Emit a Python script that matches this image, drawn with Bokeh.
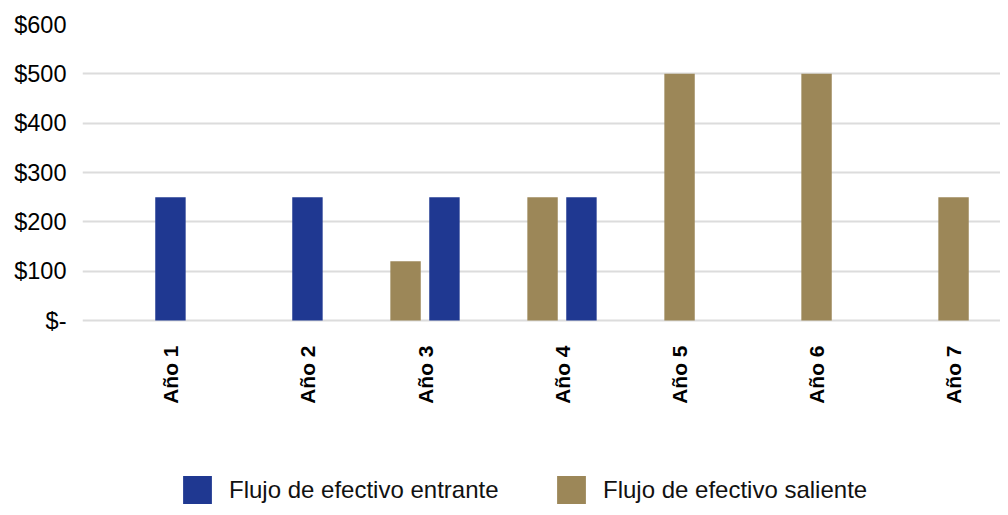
import math
from bokeh.plotting import figure
from bokeh.models import (ColumnDataSource, Range1d, FixedTicker, Legend, LegendItem,
                          PrintfTickFormatter)
from bokeh.embed import file_html
from bokeh.resources import INLINE

# ---- data ----
categories = ["Año 1", "Año 2", "Año 3", "Año 4", "Año 5", "Año 6", "Año 7"]
entrante = [250, 250, 250, 250, 0, 0, 0]      # Flujo de efectivo entrante
saliente = [0, 0, 120, 250, 500, 500, 250]    # Flujo de efectivo saliente
y_ticks = [0, 100, 200, 300, 400, 500, 600]
series_names = ["Flujo de efectivo entrante", "Flujo de efectivo saliente"]

BLUE = "#1f3891"
TAN = "#9c8758"
GRID = "#dcdcdc"
FONT = "Liberation Sans"

offset = 0.142
bar_w = 0.222

# bar positions (dodged within each category)
sal_x, sal_top, ent_x, ent_top, label_pos = [], [], [], [], []
for i, (e, s) in enumerate(zip(entrante, saliente)):
    xs = []
    if s:
        sal_x.append(i - offset); sal_top.append(s); xs.append(i - offset)
    if e:
        ent_x.append(i + offset); ent_top.append(e); xs.append(i + offset)
    label_pos.append(sum(xs) / len(xs))

# frame spans from the top gridline down to the bottom of the canvas;
# the value range below zero holds the category labels and the legend
px_per_unit = 296 / 600
y_min = -(507 - 320) / px_per_unit

p = figure(width=1000, height=507, output_backend="svg", toolbar_location=None,
           x_range=Range1d(-0.5, 6.2007), y_range=Range1d(y_min, 600),
           min_border_left=82, min_border_right=0, min_border_top=24,
           min_border_bottom=0)
p.outline_line_color = None
p.background_fill_color = "white"

r_sal = p.vbar(x="x", top="top", width=bar_w, bottom=0,
               source=ColumnDataSource(dict(x=sal_x, top=sal_top)),
               fill_color=TAN, line_color=None)
r_ent = p.vbar(x="x", top="top", width=bar_w, bottom=0,
               source=ColumnDataSource(dict(x=ent_x, top=ent_top)),
               fill_color=BLUE, line_color=None)

# category labels (vertical, reading bottom to top)
p.text(x=label_pos, y=[0] * len(label_pos), text=categories, angle=math.pi / 2,
       text_align="right", text_baseline="middle", y_offset=25,
       text_font={"value": FONT}, text_font_style="bold",
       text_font_size="21px", text_color="black")

p.xaxis.visible = False
p.xgrid.grid_line_color = None

# y axis
p.yaxis.ticker = FixedTicker(ticks=y_ticks)
p.yaxis.formatter = PrintfTickFormatter(format="$%d")
p.yaxis.major_label_overrides = {0: "$-"}
p.yaxis.major_label_text_font = FONT
p.yaxis.major_label_text_font_size = "23.5px"
p.yaxis.major_label_text_color = "black"
p.yaxis.major_label_standoff = 10
p.yaxis.axis_line_color = None
p.yaxis.major_tick_line_color = None
p.yaxis.minor_tick_line_color = None
p.ygrid.grid_line_color = GRID
p.ygrid.grid_line_width = 2

# legends
def make_legend(name, rend, x):
    lg = Legend(items=[LegendItem(label=name, renderers=[rend])],
                location=(x, 0), orientation="horizontal",
                padding=0, margin=0, border_line_color=None,
                background_fill_alpha=0, glyph_width=36, glyph_height=35,
                label_standoff=14, label_text_font=FONT,
                label_text_font_size="24px", label_text_color="#111111")
    p.add_layout(lg, "center")

make_legend(series_names[0], r_ent, 97)
make_legend(series_names[1], r_sal, 471)

open("out.html", "w").write(file_html(p, INLINE))
